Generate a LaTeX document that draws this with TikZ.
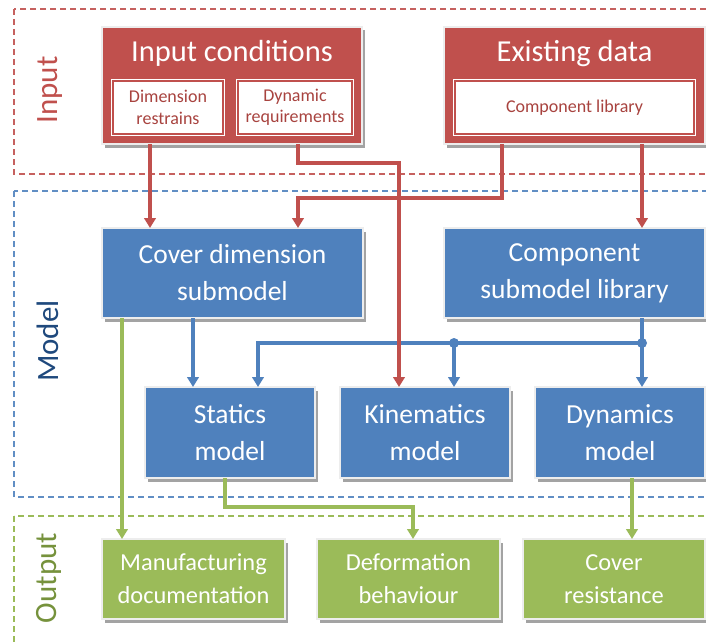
\documentclass[tikz,border=0pt]{standalone}
\usepackage{fontspec}
\setmainfont{Carlito}
\usetikzlibrary{arrows.meta,shadows,calc}
\definecolor{cred}{HTML}{C0504D}
\definecolor{cblue}{HTML}{4F81BD}
\definecolor{cgreen}{HTML}{9BBB59}
\definecolor{cnavy}{HTML}{1F497D}
\definecolor{cdgreen}{HTML}{76923C}
\definecolor{cdred}{HTML}{A8433F}
\begin{document}
\begin{tikzpicture}[x=1pt,y=-1pt,
  box/.style={draw=black!7, line width=2.5pt, inner sep=0pt, outer sep=0pt, text=white, align=center,
    drop shadow={shadow xshift=2.5pt, shadow yshift=-3.5pt, fill=black!45, opacity=0.8}},
  redbox/.style={box, fill=cred},
  bluebox/.style={box, fill=cblue, font=\fontsize{27.5}{37}\selectfont},
  greenbox/.style={box, fill=cgreen, font=\fontsize{24.4}{33}\selectfont},
  subbox/.style={fill=white, draw=white, double=cred, line width=0.9pt, double distance=1.4pt,
    inner sep=0pt, outer sep=0pt, text=cdred, align=center, font=\fontsize{18}{21.5}\selectfont},
  titletext/.style={text=white, anchor=base, font=\fontsize{30.5}{36}\selectfont},
  sidelabel/.style={rotate=90, font=\fontsize{31}{36}\selectfont},
  frame/.style={line width=1.2pt, dash pattern=on 6pt off 4pt},
  rarrow/.style={draw=cred, line width=3.4pt, -{Triangle[width=11.5pt,length=10pt]}},
  barrow/.style={draw=cblue, line width=3.4pt, -{Triangle[width=11.5pt,length=10pt]}},
  garrow/.style={draw=cgreen, line width=3.4pt, -{Triangle[width=11.5pt,length=10pt]}},
  bline/.style={draw=cblue, line width=3.4pt},
  dot/.style={circle, fill=cblue, inner sep=0pt, minimum size=10pt}
]
\useasboundingbox (0,0) rectangle (706,642);
\fill[white] (0,0) rectangle (706,642);

% dashed group frames
\draw[frame, draw=cred!90!white] (14,9) rectangle (740,174);
\draw[frame, draw=cblue!90!white] (14,191) rectangle (740,497);
\draw[frame, draw=cgreen] (14,516) rectangle (740,680);

% side labels
\node[sidelabel, text=cred] (lin) at (50,90) {Input};
\node[sidelabel, text=cnavy] (lmo) at (48,341) {Model};
\node[sidelabel, text=cdgreen] (lout) at (49,578) {Output};

% input boxes
\node[redbox, minimum width=260, minimum height=117] (ic) at (232,85.5) {};
\node[titletext] (ict) at (232,61) {Input conditions};
\node[subbox, minimum width=110, minimum height=53] (dr) at (168,107.5) {Dimension\\restrains};
\node[subbox, minimum width=114, minimum height=53] (dq) at (295,107.5) {Dynamic\\requirements};

\node[redbox, minimum width=261, minimum height=117] (ed) at (574.5,85.5) {};
\node[titletext] (edt) at (574.5,61) {Existing data};
\node[subbox, minimum width=239, minimum height=53] (cl) at (574.5,107.5) {Component library};

% model boxes
\node[bluebox, minimum width=261, minimum height=90] (cd) at (232.5,273) {Cover dimension\\submodel};
\node[bluebox, minimum width=261, minimum height=90] (cs) at (574.5,273) {Component\\submodel library};
\node[bluebox, minimum width=170, minimum height=91] (st) at (230,432.5) {Statics\\model};
\node[bluebox, minimum width=170, minimum height=91] (ki) at (425,432.5) {Kinematics\\model};
\node[bluebox, minimum width=170, minimum height=91] (dy) at (620,432.5) {Dynamics\\model};

% output boxes
\node[greenbox, minimum width=183, minimum height=80] (mf) at (193.5,579) {Manufacturing\\documentation};
\node[greenbox, minimum width=183, minimum height=80] (de) at (408.5,579) {Deformation\\behaviour};
\node[greenbox, minimum width=182, minimum height=80] (cr) at (614,579) {Cover\\resistance};

% blue connectors
\draw[barrow] ([xshift=-39.5pt]cd.south) -- ([xshift=-37pt]st.north);
\draw[bline] ([xshift=67.5pt]cs.south) -- ++(0,25) coordinate (j1);
\draw[barrow] (j1) -- ([xshift=22pt]dy.north);
\draw[barrow] (j1) -| ([xshift=28pt]st.north);
\coordinate (j2) at ([xshift=29pt]ki.north |- j1);
\draw[barrow] (j2) -- ([xshift=29pt]ki.north);
\node[dot] (d1) at (j1) {};
\node[dot] (d2) at (j2) {};

% red connectors
\draw[rarrow] ([xshift=-82pt]ic.south) -- ([xshift=-82.5pt]cd.north);
\draw[rarrow] ([xshift=66pt]ic.south) -- ++(0,19) -| ([xshift=-26pt]ki.north);
\draw[rarrow] ([xshift=-72.5pt]ed.south) -- ++(0,54) -| ([xshift=65.5pt]cd.north);
\draw[rarrow] ([xshift=67.5pt]ed.south) -- ([xshift=67.5pt]cs.north);

% green connectors
\draw[garrow] ([xshift=-110.5pt]cd.south) -- ([xshift=-71.5pt]mf.north);
\draw[garrow] ([xshift=-5pt]st.south) -- ++(0,29) -| ([xshift=4.5pt]de.north);
\draw[garrow] ([xshift=12pt]dy.south) -- ([xshift=18pt]cr.north);
\end{tikzpicture}
\end{document}
